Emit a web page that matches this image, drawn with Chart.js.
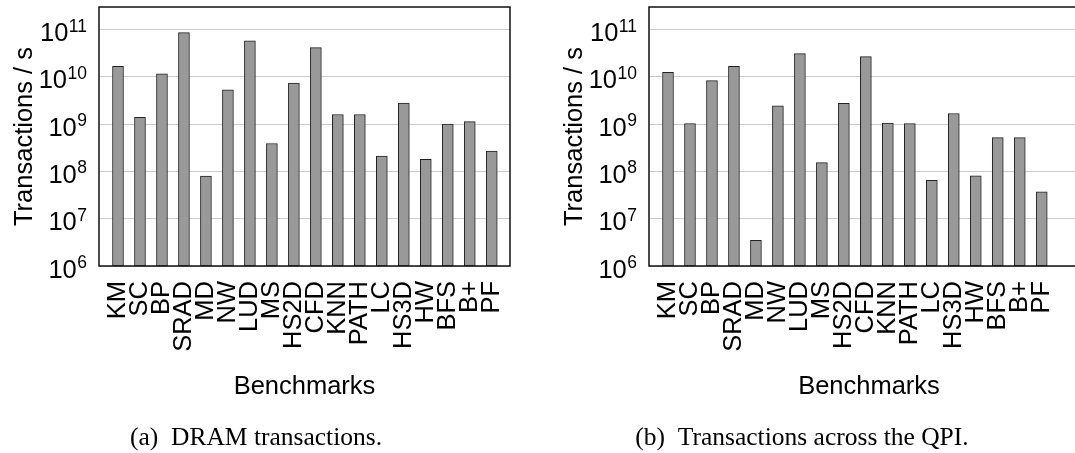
<!DOCTYPE html>
<html>
<head>
<meta charset="utf-8">
<title>Transactions per second by benchmark</title>
<script src="https://cdn.jsdelivr.net/npm/chart.js@4.4.1/dist/chart.umd.min.js"></script>
<style>
  html, body { margin: 0; padding: 0; background: #fff; overflow: hidden; }
  #page { position: relative; width: 1075px; height: 453px; overflow: hidden; background: #fff; }
  canvas { position: absolute; top: 0; }
  .caption {
    position: absolute; top: 422px; width: 500px; text-align: center;
    font-family: "Liberation Serif", "Times New Roman", serif; font-size: 25.5px;
    line-height: 30px; color: #000; white-space: nowrap;
  }
</style>
</head>
<body>
<div id="page">
  <canvas id="dramChart" width="550" height="453" style="left:0px"></canvas>
  <canvas id="qpiChart" width="560" height="453" style="left:550px"></canvas>
  <div class="caption" style="left:6px">(a)&ensp;DRAM transactions.</div>
  <div class="caption" style="left:552px">(b)&ensp;Transactions across the QPI.</div>
</div>
<script>
// Benchmarks on the x axis
const benchmarks = ['KM', 'SC', 'BP', 'SRAD', 'MD', 'NW', 'LUD', 'MS', 'HS2D', 'CFD',
                    'KNN', 'PATH', 'LC', 'HS3D', 'HW', 'BFS', 'B+', 'PF'];

// Transactions per second, DRAM
const dramTransactions = [1.67e10, 1.40e9, 1.16e10, 8.6e10, 8.0e7, 5.3e9, 5.75e10, 3.9e8, 7.4e9, 4.15e10,
                          1.6e9, 1.6e9, 2.1e8, 2.8e9, 1.8e8, 1.0e9, 1.13e9, 2.7e8];

// Transactions per second across the QPI
const qpiTransactions = [1.24e10, 1.03e9, 8.3e9, 1.67e10, 3.5e6, 2.44e9, 3.1e10, 1.53e8, 2.74e9, 2.67e10,
                         1.05e9, 1.03e9, 6.5e7, 1.68e9, 8.1e7, 5.2e8, 5.2e8, 3.7e7];

// Powers of ten labelled on the y axis
const yTickExponents = [6, 7, 8, 9, 10, 11];

const SANS = '"Liberation Sans", Arial, Helvetica, sans-serif';
const FONT_SIZE = 25.5;
const CANVAS_H = 453;
const PLOT_LEFT = 99;
const PLOT_BOTTOM = 266;

// y tick labels written as 10 with a raised exponent
const powerLabels = {
  id: 'powerLabels',
  afterDraw(chart) {
    const { ctx } = chart;
    const y = chart.scales.y;
    const right = PLOT_LEFT - 12;
    ctx.save();
    ctx.fillStyle = '#000';
    ctx.textAlign = 'right';
    ctx.textBaseline = 'alphabetic';
    for (const e of yTickExponents) {
      const py = y.getPixelForValue(Math.pow(10, e));
      const baseline = py + 11.5;
      const exp = String(e);
      ctx.font = '17.5px ' + SANS;
      const w = ctx.measureText(exp).width;
      ctx.fillText(exp, right, baseline - 9.5);
      ctx.font = FONT_SIZE + 'px ' + SANS;
      ctx.fillText('10', right - w - 0.5, baseline);
    }
    ctx.restore();
  }
};

// closed frame around the plot area
const plotFrame = {
  id: 'plotFrame',
  afterDatasetsDraw(chart) {
    const { ctx, chartArea: a } = chart;
    ctx.save();
    ctx.strokeStyle = '#111';
    ctx.lineWidth = 1.5;
    ctx.strokeRect(a.left, a.top, a.right - a.left, a.bottom - a.top);
    ctx.restore();
  }
};

function makeChart(canvasId, values, xMax, padRight) {
  return new Chart(document.getElementById(canvasId), {
    type: 'bar',
    data: {
      datasets: [{
        data: values.map((v, i) => ({ x: i, y: v })),
        backgroundColor: '#999999',
        borderColor: '#222222',
        borderWidth: 1,
        borderSkipped: false,
        barThickness: 11
      }]
    },
    options: {
      responsive: false,
      animation: false,
      devicePixelRatio: 1,
      layout: { padding: { top: 7, right: padRight, left: 0, bottom: 0 } },
      plugins: {
        legend: { display: false },
        tooltip: { enabled: false },
        title: { display: false }
      },
      scales: {
        x: {
          type: 'linear',
          offset: false,
          min: -0.864,
          max: xMax,
          grid: { display: false, drawTicks: false, offset: false },
          border: { display: false },
          afterBuildTicks(scale) {
            scale.ticks = benchmarks.map((_, i) => ({ value: i }));
          },
          ticks: {
            autoSkip: false,
            minRotation: 90,
            maxRotation: 90,
            padding: 15,
            color: '#000',
            font: { family: SANS, size: FONT_SIZE },
            callback: (v) => benchmarks[v]
          },
          title: {
            display: true,
            text: 'Benchmarks',
            color: '#000',
            font: { family: SANS, size: FONT_SIZE },
            padding: { top: 0, bottom: 51 }
          },
          afterFit(scale) {
            scale.height = CANVAS_H - PLOT_BOTTOM;
          }
        },
        y: {
          type: 'logarithmic',
          min: 1e6,
          max: 3e11,
          afterBuildTicks(scale) {
            scale.ticks = yTickExponents.map((e) => ({ value: Math.pow(10, e) }));
          },
          grid: { color: '#cccccc', lineWidth: 1, drawTicks: false },
          border: { display: false },
          ticks: { display: false },
          title: {
            display: true,
            text: 'Transactions / s',
            color: '#000',
            font: { family: SANS, size: FONT_SIZE },
            padding: { top: 10, bottom: 0 }
          },
          afterFit(scale) {
            scale.width = PLOT_LEFT;
          }
        }
      }
    },
    plugins: [powerLabels, plotFrame]
  });
}

makeChart('dramChart', dramTransactions, 17.83, 40);
makeChart('qpiChart', qpiTransactions, 19.15, 21);
</script>
</body>
</html>
